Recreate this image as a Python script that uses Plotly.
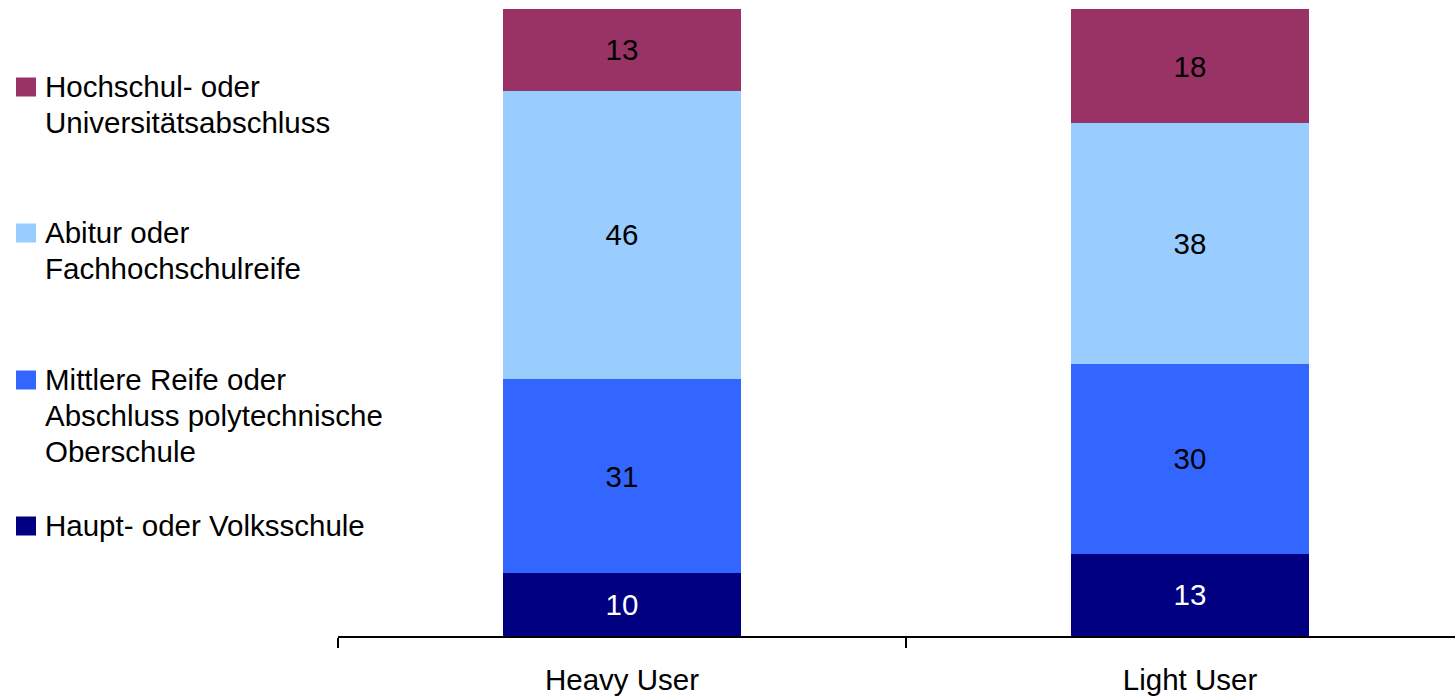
import plotly.graph_objects as go

# Data: share of respondents by school education, per user group
groups = ["Heavy User", "Light User"]
series_names = [
    "Haupt- oder Volksschule",
    "Mittlere Reife oder<br>Abschluss polytechnische<br>Oberschule",
    "Abitur oder<br>Fachhochschulreife",
    "Hochschul- oder<br>Universitätsabschluss",
]
haupt = [10, 13]
mittlere = [31, 30]
abitur = [46, 38]
hochschul = [13, 18]

series_values = [haupt, mittlere, abitur, hochschul]
colors = ["#000080", "#3366FF", "#99CCFF", "#993366"]
text_colors = ["white", "black", "black", "black"]

FONT = "Liberation Sans, Arial, sans-serif"
FS = 29.5

W, H = 1455, 699
ML, MR, MT, MB = 338, 0, 9, 63
plot_w = W - ML - MR
plot_h = H - MT - MB
cat_px = 568  # pixel width of one category slot

fig = go.Figure()
for name, vals, col, tcol in zip(series_names, series_values, colors, text_colors):
    fig.add_trace(go.Bar(
        x=groups,
        y=vals,
        name=name,
        marker=dict(color=col, line=dict(width=0)),
        width=0.42,
        text=[str(v) for v in vals],
        textposition="inside",
        insidetextanchor="middle",
        textangle=0,
        textfont=dict(family=FONT, size=FS, color=tcol),
        constraintext="none",
        showlegend=False,
        hoverinfo="skip",
    ))

# Custom legend on the left: swatch + (multi-line) label, top item first
legend_order = [3, 2, 1, 0]
legend_first_line_px = [86, 232, 379, 525]
line_step_px = 36.3


def px_to_x(px):
    return (px - ML) / plot_w


def px_to_y(py):
    return (H - MB - py) / plot_h


shapes = []
annotations = []
for idx, center in zip(legend_order, legend_first_line_px):
    shapes.append(dict(
        type="rect", xref="paper", yref="paper",
        x0=px_to_x(16), x1=px_to_x(36),
        y0=px_to_y(center + 10.5), y1=px_to_y(center - 8.5),
        fillcolor=colors[idx], line=dict(width=0),
    ))
    for k, line in enumerate(series_names[idx].split("<br>")):
        annotations.append(dict(
            xref="paper", yref="paper",
            x=px_to_x(44), y=px_to_y(center + k * line_step_px),
            xanchor="left", yanchor="middle", align="left",
            text=line, showarrow=False, borderpad=0,
            font=dict(family=FONT, size=FS, color="black"),
        ))

fig.update_layout(
    width=W, height=H,
    margin=dict(l=ML, r=MR, t=MT, b=MB),
    barmode="stack",
    barnorm="percent",
    paper_bgcolor="white",
    plot_bgcolor="white",
    shapes=shapes,
    annotations=annotations,
    xaxis=dict(
        range=[-0.5, -0.5 + plot_w / cat_px],
        showline=True, linecolor="black", linewidth=2,
        ticks="outside", tickson="boundaries", ticklen=10,
        tickcolor="black", tickwidth=2,
        ticklabelstandoff=17,
        tickfont=dict(family=FONT, size=FS, color="black"),
        showgrid=False, zeroline=False, fixedrange=True,
    ),
    yaxis=dict(
        range=[0, 100], visible=False, showgrid=False, zeroline=False,
    ),
    font=dict(family=FONT, size=FS, color="black"),
)

fig.write_html("out.html")
